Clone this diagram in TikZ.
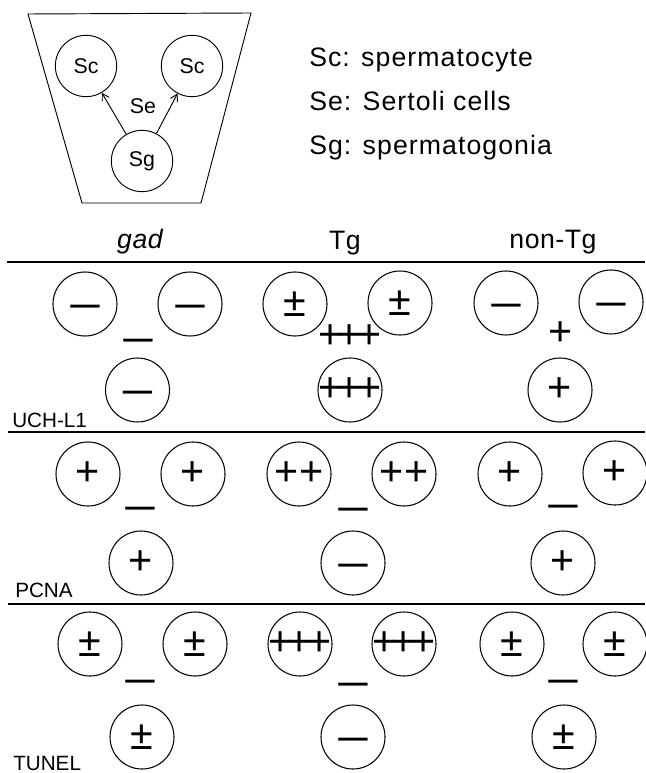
\documentclass[tikz,border=0pt]{standalone}
\usepackage{fontspec}
\setmainfont{Liberation Sans}
\usetikzlibrary{arrows.meta}

\newcommand{\keyfont}{\fontsize{16pt}{18pt}\selectfont}
\newcommand{\lgdfont}{\fontsize{20pt}{22pt}\selectfont\addfontfeature{LetterSpace=4}}
\newcommand{\colfont}{\fontsize{20pt}{22pt}\selectfont\addfontfeature{LetterSpace=2}}
\newcommand{\rowfont}{\fontsize{15.5pt}{17pt}\selectfont}
\newcommand{\sgnfont}{\fontsize{31pt}{31pt}\selectfont}
% signs
\newcommand{\sgnneg}{\raisebox{0pt}[15pt][0pt]{\fontsize{22pt}{22pt}\selectfont\bfseries —}}
\newcommand{\sgnp}{+}
\newcommand{\sgnpp}{++}
\newcommand{\sgnppp}{\makebox[0pt]{+\kern-3.2pt+\kern-3.2pt+}}
\newcommand{\sgnpm}{±}

\tikzset{
  cell/.style={circle,draw,line width=0.8pt,minimum size=48pt,inner sep=0pt,font=\sgnfont},
  keycell/.style={circle,draw,line width=0.7pt,minimum size=46pt,inner sep=0pt,font=\keyfont},
  sign/.style={inner sep=0pt,font=\sgnfont},
  rowname/.style={anchor=base west,inner sep=0pt,font=\rowfont},
  colname/.style={anchor=base,inner sep=0pt,font=\colfont},
  lgd/.style={anchor=base west,inner sep=0pt,font=\lgdfont},
  rule/.style={line width=1pt},
  growarrow/.style={line width=0.7pt,-{Straight Barb[length=5pt,width=6pt]}}
}

\begin{document}
\begin{tikzpicture}[x=0.75pt,y=0.75pt,yscale=-1,xscale=1]
\useasboundingbox (0,0) rectangle (645,773);

%Shape: tubule
\draw [line width=0.7pt] (28,14) -- (251,13) -- (201,203) -- (82,203) -- cycle ;
\node [keycell] (k-scl) at (86,66) {Sc};
\node [keycell] (k-scr) at (192,66) {Sc};
\node [keycell] (k-sg) at (142,161) {Sg};
\node [inner sep=0pt,font=\keyfont] (k-se) at (143,106) {Se};
\draw [growarrow] (k-sg) -- (k-scl);
\draw [growarrow] (k-sg) -- (k-scr);

% Text Node
\node [lgd] (l-sc) at (309,67) {Sc: spermatocyte};
\node [lgd] (l-se) at (309,111) {Se: Sertoli cells};
\node [lgd] (l-sg) at (309,155) {Sg: spermatogonia};

% column heads
\node [colname,font={\colfont\itshape}] (h-gad) at (140,248) {gad};
\node [colname] (h-tg) at (345,249) {Tg};
\node [colname] (h-non) at (553,248) {non-Tg};

%Straight Lines
\draw [rule] (7,262) -- (645,262) ;
\draw [rule] (8,432) -- (645,432) ;
\draw [rule] (8,604) -- (645,604) ;

% UCH-L1
\node [cell] (u-gad-l) at (85,304) {\sgnneg};
\node [cell] (u-gad-r) at (190,304) {\sgnneg};
\node [sign] (u-gad-se) at (138,338) {\sgnneg};
\node [cell] (u-gad-g) at (137.5,390) {\sgnneg};
\node [cell] (u-tg-l) at (295,304) {\sgnpm};
\node [cell] (u-tg-r) at (400,303) {\sgnpm};
\node [sign] (u-tg-se) at (350,337) {\sgnppp};
\node [cell] (u-tg-g) at (350,390) {\sgnppp};
\node [cell] (u-non-l) at (506,303) {\sgnneg};
\node [cell] (u-non-r) at (611,302) {\sgnneg};
\node [sign] (u-non-se) at (561,334) {\sgnp};
\node [cell] (u-non-g) at (560,390) {\sgnp};
\node [rowname] (r-uch) at (12,427) {UCH-L1};

% PCNA
\node [cell] (p-gad-l) at (88,474) {\sgnp};
\node [cell] (p-gad-r) at (193,474) {\sgnp};
\node [sign] (p-gad-se) at (140,506) {\sgnneg};
\node [cell] (p-gad-g) at (141,563) {\sgnp};
\node [cell] (p-tg-l) at (299,474) {\sgnpp};
\node [cell] (p-tg-r) at (404,474) {\sgnpp};
\node [sign] (p-tg-se) at (353,507) {\sgnneg};
\node [cell] (p-tg-g) at (353,563) {\sgnneg};
\node [cell] (p-non-l) at (510,474) {\sgnp};
\node [cell] (p-non-r) at (615,473) {\sgnp};
\node [sign] (p-non-se) at (563,504) {\sgnneg};
\node [cell] (p-non-g) at (563,563) {\sgnp};
\node [rowname] (r-pcna) at (15,597) {PCNA};

% TUNEL
\node [cell] (t-gad-l) at (90,644) {\sgnpm};
\node [cell] (t-gad-r) at (195,644) {\sgnpm};
\node [sign] (t-gad-se) at (140,679) {\sgnneg};
\node [cell] (t-gad-g) at (142,737) {\sgnpm};
\node [cell] (t-tg-l) at (300,644) {\sgnppp};
\node [cell] (t-tg-r) at (404,644) {\sgnppp};
\node [sign] (t-tg-se) at (353,682) {\sgnneg};
\node [cell] (t-tg-g) at (353,737) {\sgnneg};
\node [cell] (t-non-l) at (512,644) {\sgnpm};
\node [cell] (t-non-r) at (615,644) {\sgnpm};
\node [sign] (t-non-se) at (563,679) {\sgnneg};
\node [cell] (t-non-g) at (564,737) {\sgnpm};
\node [rowname] (r-tunel) at (13,770) {TUNEL};

\end{tikzpicture}
\end{document}
